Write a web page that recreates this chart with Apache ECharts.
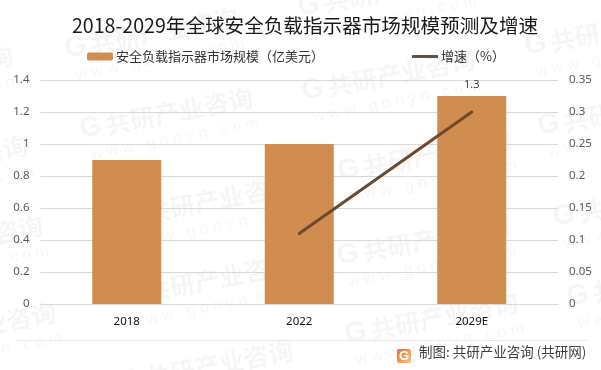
<!DOCTYPE html>
<html><head><meta charset="utf-8">
<style>html,body{margin:0;padding:0;background:#fff}#c{width:601px;height:370px}</style>
<script src="https://cdn.jsdelivr.net/npm/echarts@6/dist/echarts.min.js"></script>
</head><body><div id="c"></div>
<script>
const categories = ['2018','2022','2029E'];
const marketSize = [0.9,1.0,1.3];
const growth = [null,0.11,0.3];
const titleText = '2018-2029年全球安全负载指示器市场规模预测及增速';
const barName = '安全负载指示器市场规模（亿美元）';
const lineName = '增速（%）';
const sourceText = '制图: 共研产业咨询 (共研网)';
const watermarkName = '共研产业咨询';
const watermarkSite = 'w w w . g o n y n . c o m';
const marks = [[65,50],[80,130],[302,92],[525,47],[538,127],[338,172],[337,257],[553,218],[567,298],[345,335],[-130,258],[-117,345],[-160,88],[-145,178],[120,297],[120,218],[120,383],[298,8]];
const fontCJK = '"Noto Sans CJK SC","Noto Sans",sans-serif';
const wmFill = 'rgba(0,0,0,0.04)';
const graphic = [];
marks.forEach(m => {
  graphic.push({type:'group',x:m[0],y:m[1],rotation:0.19,silent:true,z:-1,children:[
    {type:'text',x:0,y:0,style:{text:'G',fill:wmFill,font:'900 28px "Liberation Sans"',verticalAlign:'middle'}},
    {type:'text',x:26,y:0,style:{text:watermarkName,fill:wmFill,font:'bold 25px '+fontCJK,verticalAlign:'middle'}},
    {type:'text',x:6,y:27,style:{text:watermarkSite,fill:wmFill,font:'16px "Liberation Sans"',verticalAlign:'middle'}}
  ]});
});
graphic.push({type:'line',shape:{x1:15,y1:340.5,x2:587,y2:340.5},style:{stroke:'#e8e8e8',lineWidth:1}});
graphic.push({type:'rect',shape:{x:397,y:349,width:14,height:14,r:2},style:{fill:new echarts.graphic.LinearGradient(0,0,1,1,[{offset:0,color:'#ee6a3c'},{offset:1,color:'#fcc684'}])}});
graphic.push({type:'text',x:399,y:350,style:{text:'G',fill:'#fff',font:'bold 13px "Liberation Sans"'}});
graphic.push({type:'text',x:419,y:345,style:{text:sourceText,fill:'#404040',font:'13.5px '+fontCJK}});
const chart = echarts.init(document.getElementById('c'),null,{renderer:'canvas'});
chart.setOption({
  animation:false,
  backgroundColor:'#fff',
  title:{text:titleText,left:72,top:16,padding:0,textStyle:{fontFamily:fontCJK,fontSize:19.6,fontWeight:'normal',color:'#1a1a1a'}},
  legend:{top:50,left:87,padding:0,itemGap:88,itemWidth:26,itemHeight:8,
    textStyle:{fontFamily:fontCJK,fontSize:13,color:'#333',padding:[0,0,0,-2]},
    data:[{name:barName},{name:lineName,icon:'path://M0 0H27V3H0Z'}]},
  grid:{left:40.5,right:43,top:80,bottom:66},
  xAxis:{type:'category',data:categories,
    axisLine:{lineStyle:{color:'#d9d9d9'}},axisTick:{show:false},
    axisLabel:{color:'#111',fontSize:11.5,margin:12,fontFamily:'"Noto Sans",sans-serif'}},
  yAxis:[
    {type:'value',min:0,max:1.4,interval:0.2,axisLine:{show:false},axisTick:{show:false},
     axisLabel:{color:'#595959',fontSize:11.5,margin:11,formatter:v=>String(+v.toFixed(1)),fontFamily:'"Noto Sans",sans-serif'},
     splitLine:{lineStyle:{color:'#d9d9d9'}}},
    {type:'value',min:0,max:0.35,interval:0.05,axisLine:{show:false},axisTick:{show:false},
     axisLabel:{color:'#595959',fontSize:11.5,margin:11,formatter:v=>String(+v.toFixed(2)),fontFamily:'"Noto Sans",sans-serif'},
     splitLine:{show:false}}
  ],
  series:[
    {name:barName,type:'bar',data:marketSize,barWidth:69,itemStyle:{color:'#d18c4f'},
     label:{show:true,position:'top',distance:6,color:'#404040',fontSize:11,
       formatter:p=>p.dataIndex===2?String(p.value):'',fontFamily:'"Noto Sans",sans-serif'}},
    {name:lineName,type:'line',yAxisIndex:1,data:growth,showSymbol:false,symbol:'none',connectNulls:false,
     lineStyle:{color:'#6b4a2e',width:3,cap:'round'},itemStyle:{color:'#6b4a2e'}}
  ],
  graphic:graphic
});
</script></body></html>
